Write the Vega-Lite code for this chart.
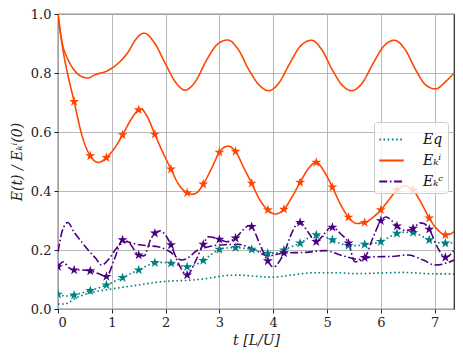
{
  "$schema": "https://vega.github.io/schema/vega-lite/v6.json",
  "autosize": {"type": "none"},
  "padding": {"left": 58, "top": 14, "right": 9, "bottom": 51},
  "width": 396,
  "height": 295,
  "config": {
    "font": "DejaVu Serif",
    "view": {"stroke": "#222", "strokeWidth": 1.2},
    "axis": {
      "labelFont": "DejaVu Serif", "labelFontSize": 13, "labelColor": "#222",
      "titleFont": "DejaVu Serif", "titleFontSize": 14, "titleFontStyle": "italic", "titleFontWeight": "normal", "titleColor": "#222",
      "gridColor": "#b0b0b0", "gridWidth": 0.9, "gridOpacity": 1,
      "tickColor": "#222", "tickSize": 4, "tickWidth": 1,
      "domain": false, "labelPadding": 3
    },
    "legend": {
      "labelFont": "DejaVu Serif", "labelFontSize": 14, "labelFontStyle": "italic", "labelColor": "#111"
    }
  },
  "data": {"values": [
    {"e":"Eki","r":"a","t":0,"v":1.0,"m":0},
    {"e":"Eki","r":"a","t":0.05,"v":0.93,"m":0},
    {"e":"Eki","r":"a","t":0.1,"v":0.885,"m":0},
    {"e":"Eki","r":"a","t":0.15,"v":0.86,"m":0},
    {"e":"Eki","r":"a","t":0.2,"v":0.84,"m":0},
    {"e":"Eki","r":"a","t":0.3,"v":0.81,"m":0},
    {"e":"Eki","r":"a","t":0.4,"v":0.792,"m":0},
    {"e":"Eki","r":"a","t":0.55,"v":0.783,"m":0},
    {"e":"Eki","r":"a","t":0.7,"v":0.795,"m":0},
    {"e":"Eki","r":"a","t":0.9,"v":0.806,"m":0},
    {"e":"Eki","r":"a","t":1.1,"v":0.83,"m":0},
    {"e":"Eki","r":"a","t":1.3,"v":0.87,"m":0},
    {"e":"Eki","r":"a","t":1.45,"v":0.915,"m":0},
    {"e":"Eki","r":"a","t":1.6,"v":0.935,"m":0},
    {"e":"Eki","r":"a","t":1.8,"v":0.9,"m":0},
    {"e":"Eki","r":"a","t":2.0,"v":0.83,"m":0},
    {"e":"Eki","r":"a","t":2.2,"v":0.765,"m":0},
    {"e":"Eki","r":"a","t":2.36,"v":0.742,"m":0},
    {"e":"Eki","r":"a","t":2.55,"v":0.77,"m":0},
    {"e":"Eki","r":"a","t":2.75,"v":0.84,"m":0},
    {"e":"Eki","r":"a","t":2.95,"v":0.895,"m":0},
    {"e":"Eki","r":"a","t":3.15,"v":0.912,"m":0},
    {"e":"Eki","r":"a","t":3.35,"v":0.88,"m":0},
    {"e":"Eki","r":"a","t":3.55,"v":0.81,"m":0},
    {"e":"Eki","r":"a","t":3.75,"v":0.757,"m":0},
    {"e":"Eki","r":"a","t":3.92,"v":0.74,"m":0},
    {"e":"Eki","r":"a","t":4.1,"v":0.765,"m":0},
    {"e":"Eki","r":"a","t":4.3,"v":0.83,"m":0},
    {"e":"Eki","r":"a","t":4.5,"v":0.89,"m":0},
    {"e":"Eki","r":"a","t":4.71,"v":0.911,"m":0},
    {"e":"Eki","r":"a","t":4.9,"v":0.88,"m":0},
    {"e":"Eki","r":"a","t":5.1,"v":0.81,"m":0},
    {"e":"Eki","r":"a","t":5.3,"v":0.755,"m":0},
    {"e":"Eki","r":"a","t":5.46,"v":0.74,"m":0},
    {"e":"Eki","r":"a","t":5.65,"v":0.765,"m":0},
    {"e":"Eki","r":"a","t":5.85,"v":0.83,"m":0},
    {"e":"Eki","r":"a","t":6.05,"v":0.89,"m":0},
    {"e":"Eki","r":"a","t":6.25,"v":0.911,"m":0},
    {"e":"Eki","r":"a","t":6.45,"v":0.88,"m":0},
    {"e":"Eki","r":"a","t":6.65,"v":0.81,"m":0},
    {"e":"Eki","r":"a","t":6.85,"v":0.757,"m":0},
    {"e":"Eki","r":"a","t":7.02,"v":0.746,"m":0},
    {"e":"Eki","r":"a","t":7.2,"v":0.77,"m":0},
    {"e":"Eki","r":"a","t":7.36,"v":0.8,"m":0},

    {"e":"Eki","r":"b","t":0,"v":1.0,"m":0},
    {"e":"Eki","r":"b","t":0.05,"v":0.93,"m":0},
    {"e":"Eki","r":"b","t":0.1,"v":0.87,"m":0},
    {"e":"Eki","r":"b","t":0.2,"v":0.78,"m":0},
    {"e":"Eki","r":"b","t":0.3,"v":0.703,"m":1},
    {"e":"Eki","r":"b","t":0.45,"v":0.585,"m":0},
    {"e":"Eki","r":"b","t":0.6,"v":0.519,"m":1},
    {"e":"Eki","r":"b","t":0.75,"v":0.497,"m":0},
    {"e":"Eki","r":"b","t":0.9,"v":0.513,"m":1},
    {"e":"Eki","r":"b","t":1.05,"v":0.545,"m":0},
    {"e":"Eki","r":"b","t":1.2,"v":0.59,"m":1},
    {"e":"Eki","r":"b","t":1.35,"v":0.64,"m":0},
    {"e":"Eki","r":"b","t":1.5,"v":0.675,"m":1},
    {"e":"Eki","r":"b","t":1.55,"v":0.677,"m":0},
    {"e":"Eki","r":"b","t":1.65,"v":0.655,"m":0},
    {"e":"Eki","r":"b","t":1.8,"v":0.592,"m":1},
    {"e":"Eki","r":"b","t":1.95,"v":0.53,"m":0},
    {"e":"Eki","r":"b","t":2.1,"v":0.474,"m":1},
    {"e":"Eki","r":"b","t":2.25,"v":0.42,"m":0},
    {"e":"Eki","r":"b","t":2.4,"v":0.394,"m":1},
    {"e":"Eki","r":"b","t":2.5,"v":0.389,"m":0},
    {"e":"Eki","r":"b","t":2.56,"v":0.392,"m":0},
    {"e":"Eki","r":"b","t":2.7,"v":0.423,"m":1},
    {"e":"Eki","r":"b","t":2.85,"v":0.475,"m":0},
    {"e":"Eki","r":"b","t":3.0,"v":0.531,"m":1},
    {"e":"Eki","r":"b","t":3.15,"v":0.552,"m":0},
    {"e":"Eki","r":"b","t":3.3,"v":0.534,"m":1},
    {"e":"Eki","r":"b","t":3.45,"v":0.48,"m":0},
    {"e":"Eki","r":"b","t":3.6,"v":0.426,"m":1},
    {"e":"Eki","r":"b","t":3.75,"v":0.37,"m":0},
    {"e":"Eki","r":"b","t":3.9,"v":0.336,"m":1},
    {"e":"Eki","r":"b","t":4.03,"v":0.322,"m":0},
    {"e":"Eki","r":"b","t":4.2,"v":0.338,"m":1},
    {"e":"Eki","r":"b","t":4.35,"v":0.38,"m":0},
    {"e":"Eki","r":"b","t":4.5,"v":0.429,"m":1},
    {"e":"Eki","r":"b","t":4.65,"v":0.475,"m":0},
    {"e":"Eki","r":"b","t":4.8,"v":0.497,"m":1},
    {"e":"Eki","r":"b","t":4.95,"v":0.465,"m":0},
    {"e":"Eki","r":"b","t":5.1,"v":0.413,"m":1},
    {"e":"Eki","r":"b","t":5.25,"v":0.355,"m":0},
    {"e":"Eki","r":"b","t":5.4,"v":0.311,"m":1},
    {"e":"Eki","r":"b","t":5.55,"v":0.29,"m":0},
    {"e":"Eki","r":"b","t":5.7,"v":0.293,"m":1},
    {"e":"Eki","r":"b","t":5.85,"v":0.31,"m":0},
    {"e":"Eki","r":"b","t":6.0,"v":0.336,"m":1},
    {"e":"Eki","r":"b","t":6.15,"v":0.37,"m":0},
    {"e":"Eki","r":"b","t":6.3,"v":0.403,"m":1},
    {"e":"Eki","r":"b","t":6.45,"v":0.417,"m":0},
    {"e":"Eki","r":"b","t":6.6,"v":0.403,"m":1},
    {"e":"Eki","r":"b","t":6.75,"v":0.36,"m":0},
    {"e":"Eki","r":"b","t":6.9,"v":0.308,"m":1},
    {"e":"Eki","r":"b","t":7.05,"v":0.27,"m":0},
    {"e":"Eki","r":"b","t":7.2,"v":0.251,"m":1},
    {"e":"Eki","r":"b","t":7.3,"v":0.255,"m":0},
    {"e":"Eki","r":"b","t":7.36,"v":0.262,"m":0},

    {"e":"Eq","r":"b","t":0,"v":0.05,"m":1},
    {"e":"Eq","r":"b","t":0.15,"v":0.044,"m":0},
    {"e":"Eq","r":"b","t":0.3,"v":0.047,"m":1},
    {"e":"Eq","r":"b","t":0.45,"v":0.055,"m":0},
    {"e":"Eq","r":"b","t":0.6,"v":0.062,"m":1},
    {"e":"Eq","r":"b","t":0.75,"v":0.071,"m":0},
    {"e":"Eq","r":"b","t":0.9,"v":0.081,"m":1},
    {"e":"Eq","r":"b","t":1.05,"v":0.094,"m":0},
    {"e":"Eq","r":"b","t":1.2,"v":0.106,"m":1},
    {"e":"Eq","r":"b","t":1.35,"v":0.12,"m":0},
    {"e":"Eq","r":"b","t":1.5,"v":0.132,"m":1},
    {"e":"Eq","r":"b","t":1.65,"v":0.146,"m":0},
    {"e":"Eq","r":"b","t":1.8,"v":0.157,"m":1},
    {"e":"Eq","r":"b","t":1.95,"v":0.158,"m":0},
    {"e":"Eq","r":"b","t":2.1,"v":0.155,"m":1},
    {"e":"Eq","r":"b","t":2.25,"v":0.148,"m":0},
    {"e":"Eq","r":"b","t":2.4,"v":0.143,"m":1},
    {"e":"Eq","r":"b","t":2.55,"v":0.15,"m":0},
    {"e":"Eq","r":"b","t":2.7,"v":0.164,"m":1},
    {"e":"Eq","r":"b","t":2.85,"v":0.185,"m":0},
    {"e":"Eq","r":"b","t":3.0,"v":0.202,"m":1},
    {"e":"Eq","r":"b","t":3.15,"v":0.207,"m":0},
    {"e":"Eq","r":"b","t":3.3,"v":0.208,"m":1},
    {"e":"Eq","r":"b","t":3.45,"v":0.206,"m":0},
    {"e":"Eq","r":"b","t":3.6,"v":0.202,"m":1},
    {"e":"Eq","r":"b","t":3.75,"v":0.196,"m":0},
    {"e":"Eq","r":"b","t":3.9,"v":0.189,"m":1},
    {"e":"Eq","r":"b","t":4.05,"v":0.19,"m":0},
    {"e":"Eq","r":"b","t":4.2,"v":0.2,"m":1},
    {"e":"Eq","r":"b","t":4.35,"v":0.212,"m":0},
    {"e":"Eq","r":"b","t":4.5,"v":0.223,"m":1},
    {"e":"Eq","r":"b","t":4.65,"v":0.24,"m":0},
    {"e":"Eq","r":"b","t":4.8,"v":0.251,"m":1},
    {"e":"Eq","r":"b","t":4.95,"v":0.245,"m":0},
    {"e":"Eq","r":"b","t":5.1,"v":0.234,"m":1},
    {"e":"Eq","r":"b","t":5.25,"v":0.222,"m":0},
    {"e":"Eq","r":"b","t":5.4,"v":0.215,"m":1},
    {"e":"Eq","r":"b","t":5.55,"v":0.215,"m":0},
    {"e":"Eq","r":"b","t":5.7,"v":0.219,"m":1},
    {"e":"Eq","r":"b","t":5.85,"v":0.222,"m":0},
    {"e":"Eq","r":"b","t":6.0,"v":0.228,"m":1},
    {"e":"Eq","r":"b","t":6.15,"v":0.243,"m":0},
    {"e":"Eq","r":"b","t":6.3,"v":0.256,"m":1},
    {"e":"Eq","r":"b","t":6.45,"v":0.26,"m":0},
    {"e":"Eq","r":"b","t":6.6,"v":0.259,"m":1},
    {"e":"Eq","r":"b","t":6.75,"v":0.248,"m":0},
    {"e":"Eq","r":"b","t":6.9,"v":0.234,"m":1},
    {"e":"Eq","r":"b","t":7.05,"v":0.226,"m":0},
    {"e":"Eq","r":"b","t":7.2,"v":0.223,"m":1},
    {"e":"Eq","r":"b","t":7.36,"v":0.225,"m":0},

    {"e":"Eq","r":"a","t":0,"v":0.017,"m":0},
    {"e":"Eq","r":"a","t":0.13,"v":0.017,"m":0},
    {"e":"Eq","r":"a","t":0.2,"v":0.022,"m":0},
    {"e":"Eq","r":"a","t":0.32,"v":0.036,"m":0},
    {"e":"Eq","r":"a","t":0.45,"v":0.046,"m":0},
    {"e":"Eq","r":"a","t":0.56,"v":0.053,"m":0},
    {"e":"Eq","r":"a","t":0.7,"v":0.059,"m":0},
    {"e":"Eq","r":"a","t":0.87,"v":0.064,"m":0},
    {"e":"Eq","r":"a","t":1.0,"v":0.068,"m":0},
    {"e":"Eq","r":"a","t":1.18,"v":0.073,"m":0},
    {"e":"Eq","r":"a","t":1.49,"v":0.081,"m":0},
    {"e":"Eq","r":"a","t":1.8,"v":0.09,"m":0},
    {"e":"Eq","r":"a","t":2.1,"v":0.095,"m":0},
    {"e":"Eq","r":"a","t":2.4,"v":0.097,"m":0},
    {"e":"Eq","r":"a","t":2.79,"v":0.104,"m":0},
    {"e":"Eq","r":"a","t":3.1,"v":0.113,"m":0},
    {"e":"Eq","r":"a","t":3.35,"v":0.115,"m":0},
    {"e":"Eq","r":"a","t":3.6,"v":0.112,"m":0},
    {"e":"Eq","r":"a","t":3.97,"v":0.108,"m":0},
    {"e":"Eq","r":"a","t":4.34,"v":0.115,"m":0},
    {"e":"Eq","r":"a","t":4.75,"v":0.123,"m":0},
    {"e":"Eq","r":"a","t":5.0,"v":0.123,"m":0},
    {"e":"Eq","r":"a","t":5.21,"v":0.123,"m":0},
    {"e":"Eq","r":"a","t":5.5,"v":0.12,"m":0},
    {"e":"Eq","r":"a","t":5.83,"v":0.121,"m":0},
    {"e":"Eq","r":"a","t":6.15,"v":0.123,"m":0},
    {"e":"Eq","r":"a","t":6.45,"v":0.124,"m":0},
    {"e":"Eq","r":"a","t":6.75,"v":0.121,"m":0},
    {"e":"Eq","r":"a","t":7.07,"v":0.119,"m":0},
    {"e":"Eq","r":"a","t":7.36,"v":0.119,"m":0},

    {"e":"Ekc","r":"b","t":0,"v":0.143,"m":1},
    {"e":"Ekc","r":"b","t":0.1,"v":0.16,"m":0},
    {"e":"Ekc","r":"b","t":0.2,"v":0.14,"m":0},
    {"e":"Ekc","r":"b","t":0.3,"v":0.132,"m":1},
    {"e":"Ekc","r":"b","t":0.45,"v":0.132,"m":0},
    {"e":"Ekc","r":"b","t":0.6,"v":0.129,"m":1},
    {"e":"Ekc","r":"b","t":0.75,"v":0.12,"m":0},
    {"e":"Ekc","r":"b","t":0.9,"v":0.11,"m":1},
    {"e":"Ekc","r":"b","t":1.05,"v":0.17,"m":0},
    {"e":"Ekc","r":"b","t":1.2,"v":0.234,"m":1},
    {"e":"Ekc","r":"b","t":1.32,"v":0.225,"m":0},
    {"e":"Ekc","r":"b","t":1.5,"v":0.183,"m":1},
    {"e":"Ekc","r":"b","t":1.6,"v":0.18,"m":0},
    {"e":"Ekc","r":"b","t":1.72,"v":0.235,"m":0},
    {"e":"Ekc","r":"b","t":1.8,"v":0.257,"m":1},
    {"e":"Ekc","r":"b","t":1.9,"v":0.265,"m":0},
    {"e":"Ekc","r":"b","t":2.0,"v":0.25,"m":0},
    {"e":"Ekc","r":"b","t":2.1,"v":0.217,"m":1},
    {"e":"Ekc","r":"b","t":2.25,"v":0.15,"m":0},
    {"e":"Ekc","r":"b","t":2.4,"v":0.115,"m":1},
    {"e":"Ekc","r":"b","t":2.55,"v":0.16,"m":0},
    {"e":"Ekc","r":"b","t":2.7,"v":0.219,"m":1},
    {"e":"Ekc","r":"b","t":2.8,"v":0.245,"m":0},
    {"e":"Ekc","r":"b","t":2.9,"v":0.242,"m":0},
    {"e":"Ekc","r":"b","t":3.0,"v":0.236,"m":1},
    {"e":"Ekc","r":"b","t":3.13,"v":0.228,"m":0},
    {"e":"Ekc","r":"b","t":3.3,"v":0.24,"m":1},
    {"e":"Ekc","r":"b","t":3.45,"v":0.27,"m":0},
    {"e":"Ekc","r":"b","t":3.55,"v":0.283,"m":0},
    {"e":"Ekc","r":"b","t":3.6,"v":0.279,"m":1},
    {"e":"Ekc","r":"b","t":3.75,"v":0.22,"m":0},
    {"e":"Ekc","r":"b","t":3.9,"v":0.163,"m":1},
    {"e":"Ekc","r":"b","t":4.0,"v":0.142,"m":0},
    {"e":"Ekc","r":"b","t":4.2,"v":0.19,"m":1},
    {"e":"Ekc","r":"b","t":4.35,"v":0.26,"m":0},
    {"e":"Ekc","r":"b","t":4.45,"v":0.29,"m":0},
    {"e":"Ekc","r":"b","t":4.5,"v":0.293,"m":1},
    {"e":"Ekc","r":"b","t":4.65,"v":0.26,"m":0},
    {"e":"Ekc","r":"b","t":4.8,"v":0.228,"m":1},
    {"e":"Ekc","r":"b","t":4.95,"v":0.255,"m":0},
    {"e":"Ekc","r":"b","t":5.05,"v":0.275,"m":0},
    {"e":"Ekc","r":"b","t":5.1,"v":0.277,"m":1},
    {"e":"Ekc","r":"b","t":5.25,"v":0.255,"m":0},
    {"e":"Ekc","r":"b","t":5.4,"v":0.223,"m":1},
    {"e":"Ekc","r":"b","t":5.52,"v":0.16,"m":0},
    {"e":"Ekc","r":"b","t":5.7,"v":0.174,"m":1},
    {"e":"Ekc","r":"b","t":5.85,"v":0.24,"m":0},
    {"e":"Ekc","r":"b","t":6.0,"v":0.299,"m":1},
    {"e":"Ekc","r":"b","t":6.1,"v":0.312,"m":0},
    {"e":"Ekc","r":"b","t":6.2,"v":0.3,"m":0},
    {"e":"Ekc","r":"b","t":6.3,"v":0.281,"m":1},
    {"e":"Ekc","r":"b","t":6.45,"v":0.266,"m":0},
    {"e":"Ekc","r":"b","t":6.6,"v":0.273,"m":1},
    {"e":"Ekc","r":"b","t":6.73,"v":0.292,"m":0},
    {"e":"Ekc","r":"b","t":6.8,"v":0.29,"m":0},
    {"e":"Ekc","r":"b","t":6.9,"v":0.27,"m":1},
    {"e":"Ekc","r":"b","t":7.05,"v":0.21,"m":0},
    {"e":"Ekc","r":"b","t":7.2,"v":0.175,"m":1},
    {"e":"Ekc","r":"b","t":7.36,"v":0.2,"m":0},

    {"e":"Ekc","r":"a","t":0,"v":0.194,"m":0},
    {"e":"Ekc","r":"a","t":0.08,"v":0.265,"m":0},
    {"e":"Ekc","r":"a","t":0.18,"v":0.293,"m":0},
    {"e":"Ekc","r":"a","t":0.3,"v":0.26,"m":0},
    {"e":"Ekc","r":"a","t":0.45,"v":0.225,"m":0},
    {"e":"Ekc","r":"a","t":0.56,"v":0.2,"m":0},
    {"e":"Ekc","r":"a","t":0.7,"v":0.172,"m":0},
    {"e":"Ekc","r":"a","t":0.81,"v":0.149,"m":0},
    {"e":"Ekc","r":"a","t":0.95,"v":0.17,"m":0},
    {"e":"Ekc","r":"a","t":1.06,"v":0.2,"m":0},
    {"e":"Ekc","r":"a","t":1.18,"v":0.222,"m":0},
    {"e":"Ekc","r":"a","t":1.28,"v":0.228,"m":0},
    {"e":"Ekc","r":"a","t":1.4,"v":0.222,"m":0},
    {"e":"Ekc","r":"a","t":1.55,"v":0.217,"m":0},
    {"e":"Ekc","r":"a","t":1.7,"v":0.214,"m":0},
    {"e":"Ekc","r":"a","t":1.86,"v":0.211,"m":0},
    {"e":"Ekc","r":"a","t":2.08,"v":0.194,"m":0},
    {"e":"Ekc","r":"a","t":2.3,"v":0.166,"m":0},
    {"e":"Ekc","r":"a","t":2.45,"v":0.178,"m":0},
    {"e":"Ekc","r":"a","t":2.55,"v":0.194,"m":0},
    {"e":"Ekc","r":"a","t":2.8,"v":0.211,"m":0},
    {"e":"Ekc","r":"a","t":3.1,"v":0.218,"m":0},
    {"e":"Ekc","r":"a","t":3.35,"v":0.219,"m":0},
    {"e":"Ekc","r":"a","t":3.66,"v":0.2,"m":0},
    {"e":"Ekc","r":"a","t":3.9,"v":0.18,"m":0},
    {"e":"Ekc","r":"a","t":4.2,"v":0.19,"m":0},
    {"e":"Ekc","r":"a","t":4.6,"v":0.192,"m":0},
    {"e":"Ekc","r":"a","t":4.96,"v":0.198,"m":0},
    {"e":"Ekc","r":"a","t":5.3,"v":0.18,"m":0},
    {"e":"Ekc","r":"a","t":5.6,"v":0.168,"m":0},
    {"e":"Ekc","r":"a","t":5.85,"v":0.177,"m":0},
    {"e":"Ekc","r":"a","t":6.2,"v":0.178,"m":0},
    {"e":"Ekc","r":"a","t":6.5,"v":0.183,"m":0},
    {"e":"Ekc","r":"a","t":6.8,"v":0.165,"m":0},
    {"e":"Ekc","r":"a","t":7.0,"v":0.149,"m":0},
    {"e":"Ekc","r":"a","t":7.15,"v":0.152,"m":0},
    {"e":"Ekc","r":"a","t":7.36,"v":0.166,"m":0}
  ]},
  "layer": [
    {"mark": {"type": "line", "interpolate": "monotone", "strokeWidth": 1.6, "clip": true},
     "encoding": {
       "x": {"field": "t", "type": "quantitative",
         "scale": {"domain": [0, 7.36], "nice": false, "zero": false},
         "axis": {"values": [0,1,2,3,4,5,6,7], "format": "d", "title": "t [L/U]", "titlePadding": 4}},
       "y": {"field": "v", "type": "quantitative",
         "scale": {"domain": [0, 1], "nice": false},
         "axis": {"values": [0,0.2,0.4,0.6,0.8,1.0], "format": ".1f", "title": "E(t) / Eₖⁱ(0)", "titlePadding": 6}},
       "detail": {"field": "r", "type": "nominal"},
       "color": {"field": "e", "type": "nominal",
         "scale": {"domain": ["Eq","Eki","Ekc"], "range": ["#008080","#FF4500","#4B0082"]},
         "legend": {"title": null, "orient": "none", "legendX": 316, "legendY": 108,
           "symbolType": "stroke", "symbolSize": 600, "symbolStrokeWidth": 2,
           "labelExpr": "datum.label == 'Eq' ? 'Eq' : datum.label == 'Eki' ? 'Eₖⁱ' : 'Eₖᶜ'",
           "fillColor": "rgba(255,255,255,0.8)", "strokeColor": "#cccccc", "cornerRadius": 3,
           "padding": 4, "rowPadding": 0, "labelOffset": 18}},
       "strokeDash": {"field": "e", "type": "nominal",
         "scale": {"domain": ["Eq","Eki","Ekc"], "range": [[1.6,2.6],[1,0],[8,2.6,1.6,2.6]]}}
     }},
    {"transform": [{"filter": "datum.m == 1"}],
     "mark": {"type": "point", "shape": "M0,-1L0.2245,-0.309L0.951,-0.309L0.3633,0.118L0.5878,0.809L0,0.382L-0.5878,0.809L-0.3633,0.118L-0.951,-0.309L-0.2245,-0.309Z", "filled": true, "opacity": 1, "size": 110, "clip": true},
     "encoding": {
       "x": {"field": "t", "type": "quantitative"},
       "y": {"field": "v", "type": "quantitative"},
       "color": {"field": "e", "type": "nominal", "legend": null}
     }}
  ]
}
